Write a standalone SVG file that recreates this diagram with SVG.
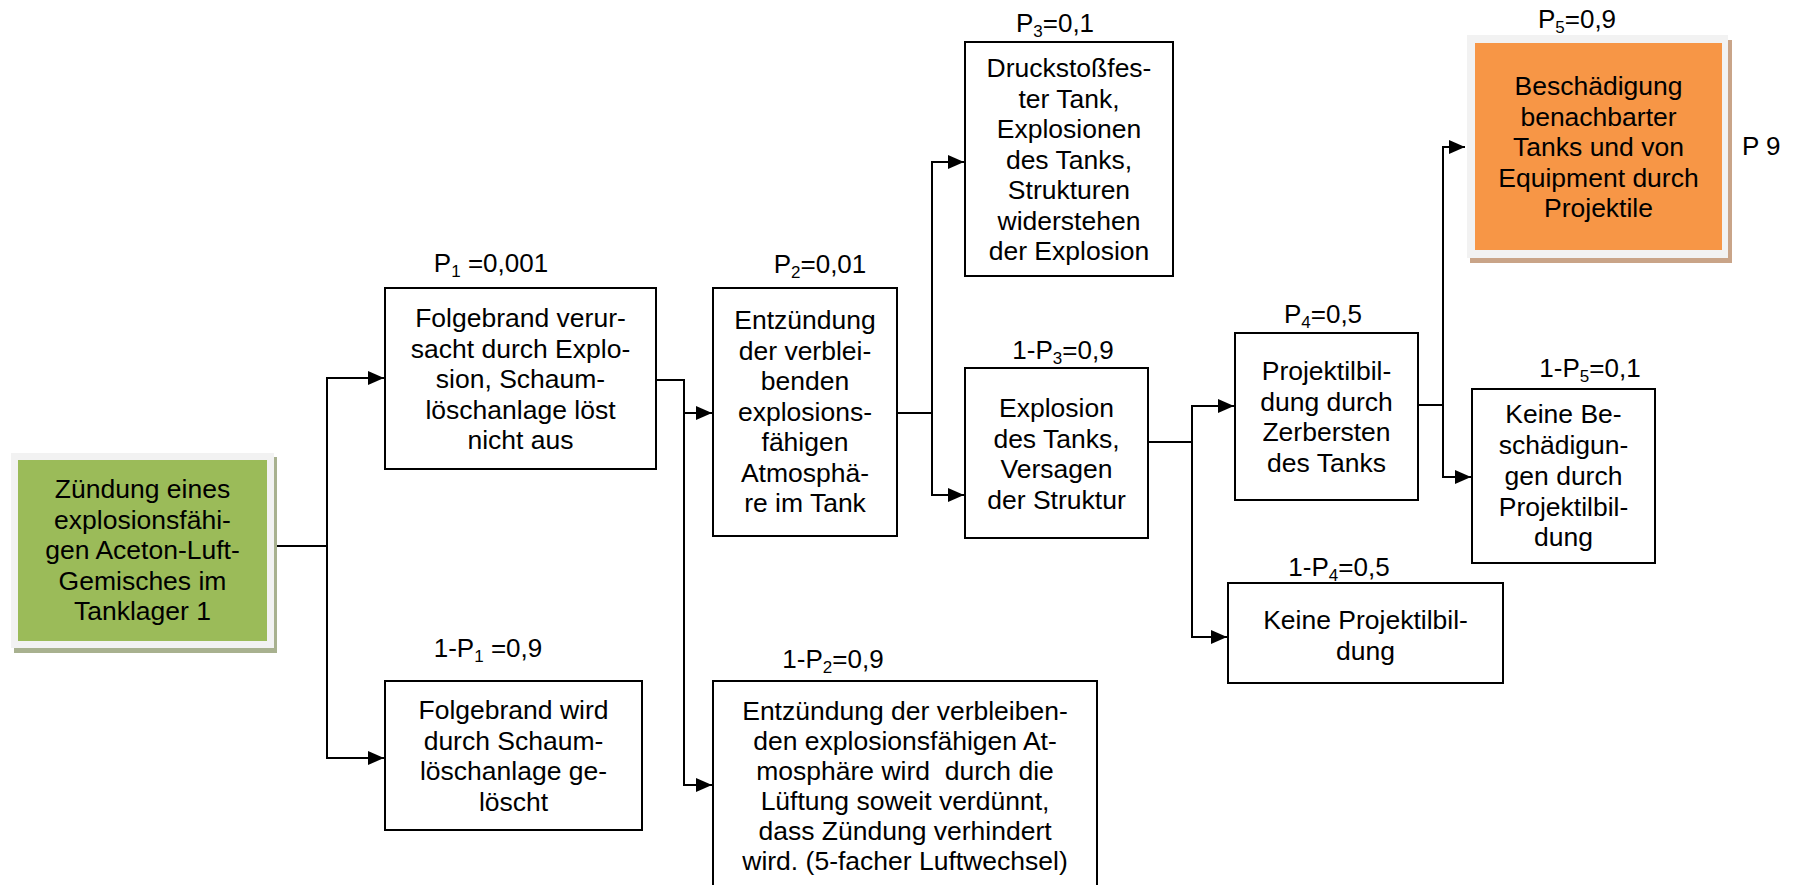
<svg xmlns="http://www.w3.org/2000/svg" width="1798" height="885" viewBox="0 0 1798 885">
<defs>
<style>
.box{fill:#ffffff;stroke:#000;stroke-width:2}
.t{font-family:"Liberation Sans",Arial,sans-serif;font-size:26.5px;fill:#000;text-anchor:middle}
.lbl{font-family:"Liberation Sans",Arial,sans-serif;font-size:26px;fill:#000;text-anchor:middle}
.conn{fill:none;stroke:#000;stroke-width:2}
</style>
<marker id="arr" markerUnits="userSpaceOnUse" markerWidth="16" markerHeight="16" viewBox="0 0 16 16" refX="16" refY="8" orient="auto">
<path d="M0,1 L16,8 L0,15 z" fill="#000"/>
</marker>
</defs>
<rect width="1798" height="885" fill="#ffffff"/>

<g id="connectors">
<path class="conn" d="M277,546 H327"/>
<path class="conn" d="M327,546 V378 H384" marker-end="url(#arr)"/>
<path class="conn" d="M327,546 V758 H384" marker-end="url(#arr)"/>
<path class="conn" d="M656,380 H684 V413 H712" marker-end="url(#arr)"/>
<path class="conn" d="M684,413 V785 H712" marker-end="url(#arr)"/>
<path class="conn" d="M897,413 H932 V162 H964" marker-end="url(#arr)"/>
<path class="conn" d="M932,413 V495 H964" marker-end="url(#arr)"/>
<path class="conn" d="M1148,442 H1192 V406 H1234" marker-end="url(#arr)"/>
<path class="conn" d="M1192,442 V637 H1227" marker-end="url(#arr)"/>
<path class="conn" d="M1418,405 H1443 V147 H1465" marker-end="url(#arr)"/>
<path class="conn" d="M1443,405 V477 H1471" marker-end="url(#arr)"/>
</g>

<g id="start">
<rect x="14" y="457" width="263" height="196" fill="#a8b18f"/>
<rect x="11" y="453" width="263" height="195" fill="#f2f2f2"/>
<rect x="18" y="460" width="249" height="181" fill="#9bbb59"/>
<text class="t"><tspan x="142.5" y="498">Zündung eines</tspan><tspan x="142.5" y="528.5">explosionsfähi-</tspan><tspan x="142.5" y="559">gen Aceton-Luft-</tspan><tspan x="142.5" y="589.5">Gemisches im</tspan><tspan x="142.5" y="620">Tanklager 1</tspan></text>
</g>

<g id="p1">
<text class="lbl" x="491" y="272">P<tspan font-size="17" dy="5">1</tspan><tspan dy="-5"> =0,001</tspan></text>
<rect class="box" x="385" y="288" width="271" height="181"/>
<text class="t"><tspan x="520.5" y="327">Folgebrand verur-</tspan><tspan x="520.5" y="357.5">sacht durch Explo-</tspan><tspan x="520.5" y="388">sion, Schaum-</tspan><tspan x="520.5" y="418.5">löschanlage löst</tspan><tspan x="520.5" y="449">nicht aus</tspan></text>
</g>

<g id="np1">
<text class="lbl" x="488" y="657">1-P<tspan font-size="17" dy="5">1</tspan><tspan dy="-5"> =0,9</tspan></text>
<rect class="box" x="385" y="681" width="257" height="149"/>
<text class="t"><tspan x="513.5" y="719">Folgebrand wird</tspan><tspan x="513.5" y="749.5">durch Schaum-</tspan><tspan x="513.5" y="780">löschanlage ge-</tspan><tspan x="513.5" y="810.5">löscht</tspan></text>
</g>

<g id="p2">
<text class="lbl" x="820" y="273">P<tspan font-size="17" dy="5">2</tspan><tspan dy="-5">=0,01</tspan></text>
<rect class="box" x="713" y="288" width="184" height="248"/>
<text class="t"><tspan x="805" y="329">Entzündung</tspan><tspan x="805" y="359.5">der verblei-</tspan><tspan x="805" y="390">benden</tspan><tspan x="805" y="420.5">explosions-</tspan><tspan x="805" y="451">fähigen</tspan><tspan x="805" y="481.5">Atmosphä-</tspan><tspan x="805" y="512">re im Tank</tspan></text>
</g>

<g id="np2">
<text class="lbl" x="833" y="668">1-P<tspan font-size="17" dy="5">2</tspan><tspan dy="-5">=0,9</tspan></text>
<rect class="box" x="713" y="681" width="384" height="215"/>
<text class="t" xml:space="preserve"><tspan x="905" y="720">Entzündung der verbleiben-</tspan><tspan x="905" y="750">den explosionsfähigen At-</tspan><tspan x="905" y="780">mosphäre wird  durch die</tspan><tspan x="905" y="810">Lüftung soweit verdünnt,</tspan><tspan x="905" y="840">dass Zündung verhindert</tspan><tspan x="905" y="870">wird. (5-facher Luftwechsel)</tspan></text>
</g>

<g id="p3">
<text class="lbl" x="1055" y="32">P<tspan font-size="17" dy="5">3</tspan><tspan dy="-5">=0,1</tspan></text>
<rect class="box" x="965" y="42" width="208" height="234"/>
<text class="t"><tspan x="1069" y="77">Druckstoßfes-</tspan><tspan x="1069" y="107.5">ter Tank,</tspan><tspan x="1069" y="138">Explosionen</tspan><tspan x="1069" y="168.5">des Tanks,</tspan><tspan x="1069" y="199">Strukturen</tspan><tspan x="1069" y="229.5">widerstehen</tspan><tspan x="1069" y="260">der Explosion</tspan></text>
</g>

<g id="np3">
<text class="lbl" x="1063" y="359">1-P<tspan font-size="17" dy="5">3</tspan><tspan dy="-5">=0,9</tspan></text>
<rect class="box" x="965" y="368" width="183" height="170"/>
<text class="t"><tspan x="1056.5" y="417">Explosion</tspan><tspan x="1056.5" y="447.5">des Tanks,</tspan><tspan x="1056.5" y="478">Versagen</tspan><tspan x="1056.5" y="508.5">der Struktur</tspan></text>
</g>

<g id="p4">
<text class="lbl" x="1323" y="323">P<tspan font-size="17" dy="5">4</tspan><tspan dy="-5">=0,5</tspan></text>
<rect class="box" x="1235" y="333" width="183" height="167"/>
<text class="t"><tspan x="1326.5" y="380">Projektilbil-</tspan><tspan x="1326.5" y="410.5">dung durch</tspan><tspan x="1326.5" y="441">Zerbersten</tspan><tspan x="1326.5" y="471.5">des Tanks</tspan></text>
</g>

<g id="np4">
<text class="lbl" x="1339" y="576">1-P<tspan font-size="17" dy="5">4</tspan><tspan dy="-5">=0,5</tspan></text>
<rect class="box" x="1228" y="583" width="275" height="100"/>
<text class="t"><tspan x="1365.5" y="629">Keine Projektilbil-</tspan><tspan x="1365.5" y="659.5">dung</tspan></text>
</g>

<g id="p5">
<text class="lbl" x="1577" y="28">P<tspan font-size="17" dy="5">5</tspan><tspan dy="-5">=0,9</tspan></text>
<rect x="1470" y="40" width="262" height="223" fill="#c9a488"/>
<rect x="1467" y="35" width="261" height="223" fill="#f2f2f2"/>
<rect x="1475" y="43" width="247" height="207" fill="#f79646"/>
<text class="t"><tspan x="1598.5" y="95">Beschädigung</tspan><tspan x="1598.5" y="125.5">benachbarter</tspan><tspan x="1598.5" y="156">Tanks und von</tspan><tspan x="1598.5" y="186.5">Equipment durch</tspan><tspan x="1598.5" y="217">Projektile</tspan></text>
<text class="lbl" x="1742" y="155" text-anchor="start" style="text-anchor:start">P 9</text>
</g>

<g id="np5">
<text class="lbl" x="1590" y="377">1-P<tspan font-size="17" dy="5">5</tspan><tspan dy="-5">=0,1</tspan></text>
<rect class="box" x="1472" y="389" width="183" height="174"/>
<text class="t"><tspan x="1563.5" y="423">Keine Be-</tspan><tspan x="1563.5" y="454">schädigun-</tspan><tspan x="1563.5" y="485">gen durch</tspan><tspan x="1563.5" y="515.5">Projektilbil-</tspan><tspan x="1563.5" y="546">dung</tspan></text>
</g>
</svg>
